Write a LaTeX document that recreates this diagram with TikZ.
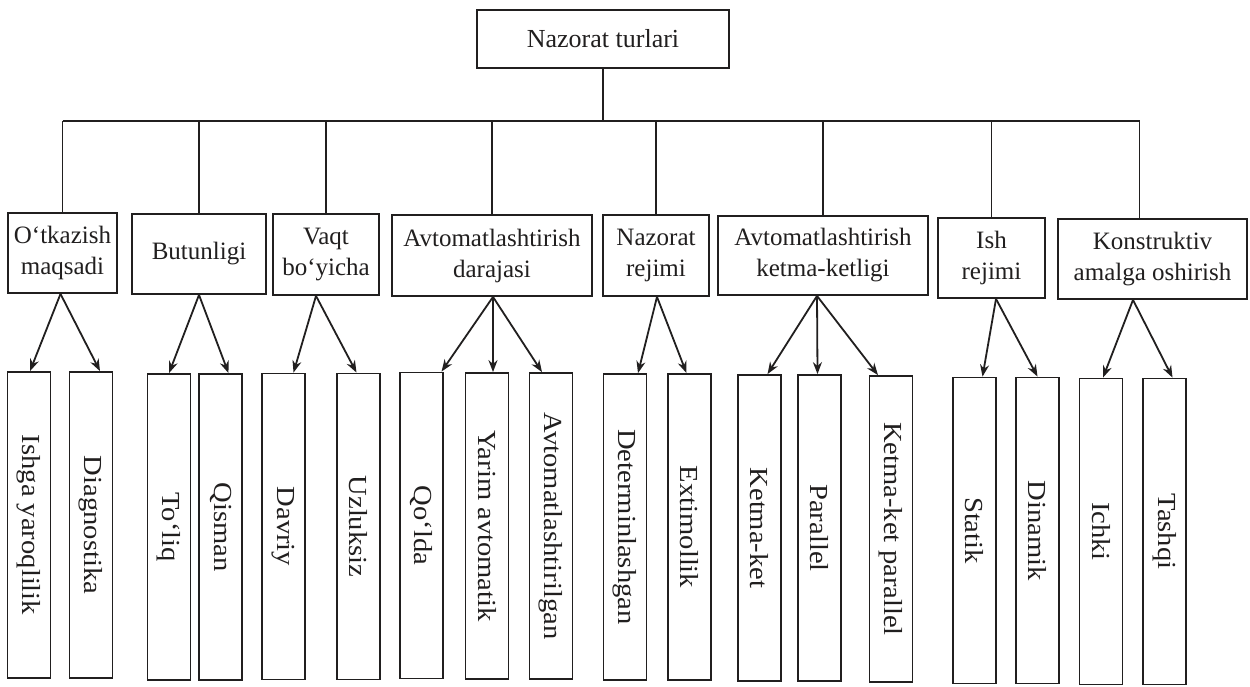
\documentclass[tikz,border=0pt]{standalone}
\usepackage{fontspec}
\setmainfont{Liberation Serif}
\usetikzlibrary{arrows.meta}
\definecolor{inkc}{rgb}{0.13,0.12,0.12}
\newcommand{\leaflabel}[1]{\rotatebox{-90}{\scalebox{1.1}[1]{#1}}}
\begin{document}
\begin{tikzpicture}[x=1pt,y=-1pt,
  ink/.style={draw=inkc, line width=1.8pt},
  box/.style={ink, rectangle, inner sep=0pt, align=center, text=inkc},
  rootbox/.style={box, font=\fontsize{26}{31}\selectfont},
  catbox/.style={box, font=\fontsize{25}{31}\selectfont},
  leafbox/.style={box, minimum width=43pt, minimum height=306pt, font=\fontsize{26}{30}\selectfont},
  conn/.style={ink},
  arr/.style={ink, -{Stealth[length=12pt,width=9pt]}}]
\useasboundingbox (0,0) rectangle (1250,686);
\fill[white] (0,0) rectangle (1250,686);

% root
\node[rootbox, minimum width=252pt, minimum height=58pt] (root) at (603,39) {Nazorat turlari};

% categories
\node[catbox, minimum width=109pt, minimum height=80pt] (c1) at (62.5,253) {O‘tkazish\\maqsadi};
\node[catbox, minimum width=134pt, minimum height=80pt] (c2) at (199,254) {Butunligi};
\node[catbox, minimum width=106pt, minimum height=81pt] (c3) at (326,254.5) {Vaqt\\bo‘yicha};
\node[catbox, minimum width=200pt, minimum height=81pt] (c4) at (492,255.5) {Avtomatlashtirish\\darajasi};
\node[catbox, minimum width=106pt, minimum height=81pt] (c5) at (656,255.5) {Nazorat\\rejimi};
\node[catbox, minimum width=210pt, minimum height=79pt] (c6) at (823,255.5) {Avtomatlashtirish\\ketma-ketligi};
\node[catbox, minimum width=107pt, minimum height=80pt] (c7) at (991.5,258) {Ish\\rejimi};
\node[catbox, minimum width=189pt, minimum height=80pt] (c8) at (1152.5,259) {Konstruktiv\\amalga oshirish};

% leaves
\node[leafbox] (l1) at (29,525) {\leaflabel{Ishga yaroqlilik}};
\node[leafbox] (l2) at (91,525) {\leaflabel{Diagnostika}};
\node[leafbox] (l3) at (169,527) {\leaflabel{To‘liq}};
\node[leafbox] (l4) at (220.5,527) {\leaflabel{Qisman}};
\node[leafbox] (l5) at (283.5,526.5) {\leaflabel{Davriy}};
\node[leafbox] (l6) at (358.5,526.5) {\leaflabel{Uzluksiz}};
\node[leafbox] (l7) at (421.5,525.5) {\leaflabel{Qo‘lda}};
\node[leafbox] (l8) at (487,526) {\leaflabel{Yarim avtomatik}};
\node[leafbox] (l9) at (551,526) {\leaflabel{Avtomatlashtirilgan}};
\node[leafbox] (l10) at (625,527) {\leaflabel{Determinlashgan}};
\node[leafbox] (l11) at (689.5,527) {\leaflabel{Extimollik}};
\node[leafbox] (l12) at (759.5,528) {\leaflabel{Ketma-ket}};
\node[leafbox] (l13) at (819.5,528) {\leaflabel{Parallel}};
\node[leafbox] (l14) at (891,529) {\leaflabel{Ketma-ket parallel}};
\node[leafbox] (l15) at (974.5,530.5) {\leaflabel{Statik}};
\node[leafbox] (l16) at (1037.5,530.5) {\leaflabel{Dinamik}};
\node[leafbox] (l17) at (1101,531.5) {\leaflabel{Ichki}};
\node[leafbox] (l18) at (1164.5,531.5) {\leaflabel{Tashqi}};

% bus
\coordinate (bus) at (0,121);
\coordinate (c8top) at ([xshift=-13pt]c8.north);
\draw[conn] (root.south) -- (root.south |- bus);
\draw[conn] (c1.north |- bus) -- (c8top |- bus);
\foreach \c in {c1,c2,c3,c4,c5,c6,c7} {\draw[conn] (\c.north |- bus) -- (\c.north);}
\draw[conn] (c8top |- bus) -- (c8top);

% arrows
\draw[arr] ([xshift=-2pt]c1.south) -- ([xshift=1pt]l1.north);
\draw[arr] ([xshift=-2pt]c1.south) -- ([xshift=9pt]l2.north);
\draw[arr] (c2.south) -- (l3.north);
\draw[arr] (c2.south) -- ([xshift=8pt]l4.north);
\draw[arr] ([xshift=-10pt]c3.south) -- ([xshift=10pt]l5.north);
\draw[arr] ([xshift=-10pt]c3.south) -- ([xshift=-2pt]l6.north);
\draw[arr] ([xshift=1pt]c4.south) -- ([xshift=20pt]l7.north);
\draw[arr] ([xshift=1pt]c4.south) -- ([xshift=6pt]l8.north);
\draw[arr] ([xshift=1pt]c4.south) -- ([xshift=-9pt]l9.north);
\draw[arr] ([xshift=1pt]c5.south) -- ([xshift=13pt]l10.north);
\draw[arr] ([xshift=1pt]c5.south) -- ([xshift=-3pt]l11.north);
\draw[arr] ([xshift=-6pt]c6.south) -- ([xshift=8pt]l12.north);
\draw[arr] ([xshift=-6pt]c6.south) -- ([xshift=-2pt]l13.north);
\draw[arr] ([xshift=-6pt]c6.south) -- ([xshift=-13pt]l14.north);
\draw[arr] ([xshift=4.5pt]c7.south) -- ([xshift=8pt]l15.north);
\draw[arr] ([xshift=4.5pt]c7.south) -- (l16.north);
\draw[arr] ([xshift=-19.5pt]c8.south) -- ([xshift=2pt]l17.north);
\draw[arr] ([xshift=-19.5pt]c8.south) -- ([xshift=8pt]l18.north);
\end{tikzpicture}
\end{document}
